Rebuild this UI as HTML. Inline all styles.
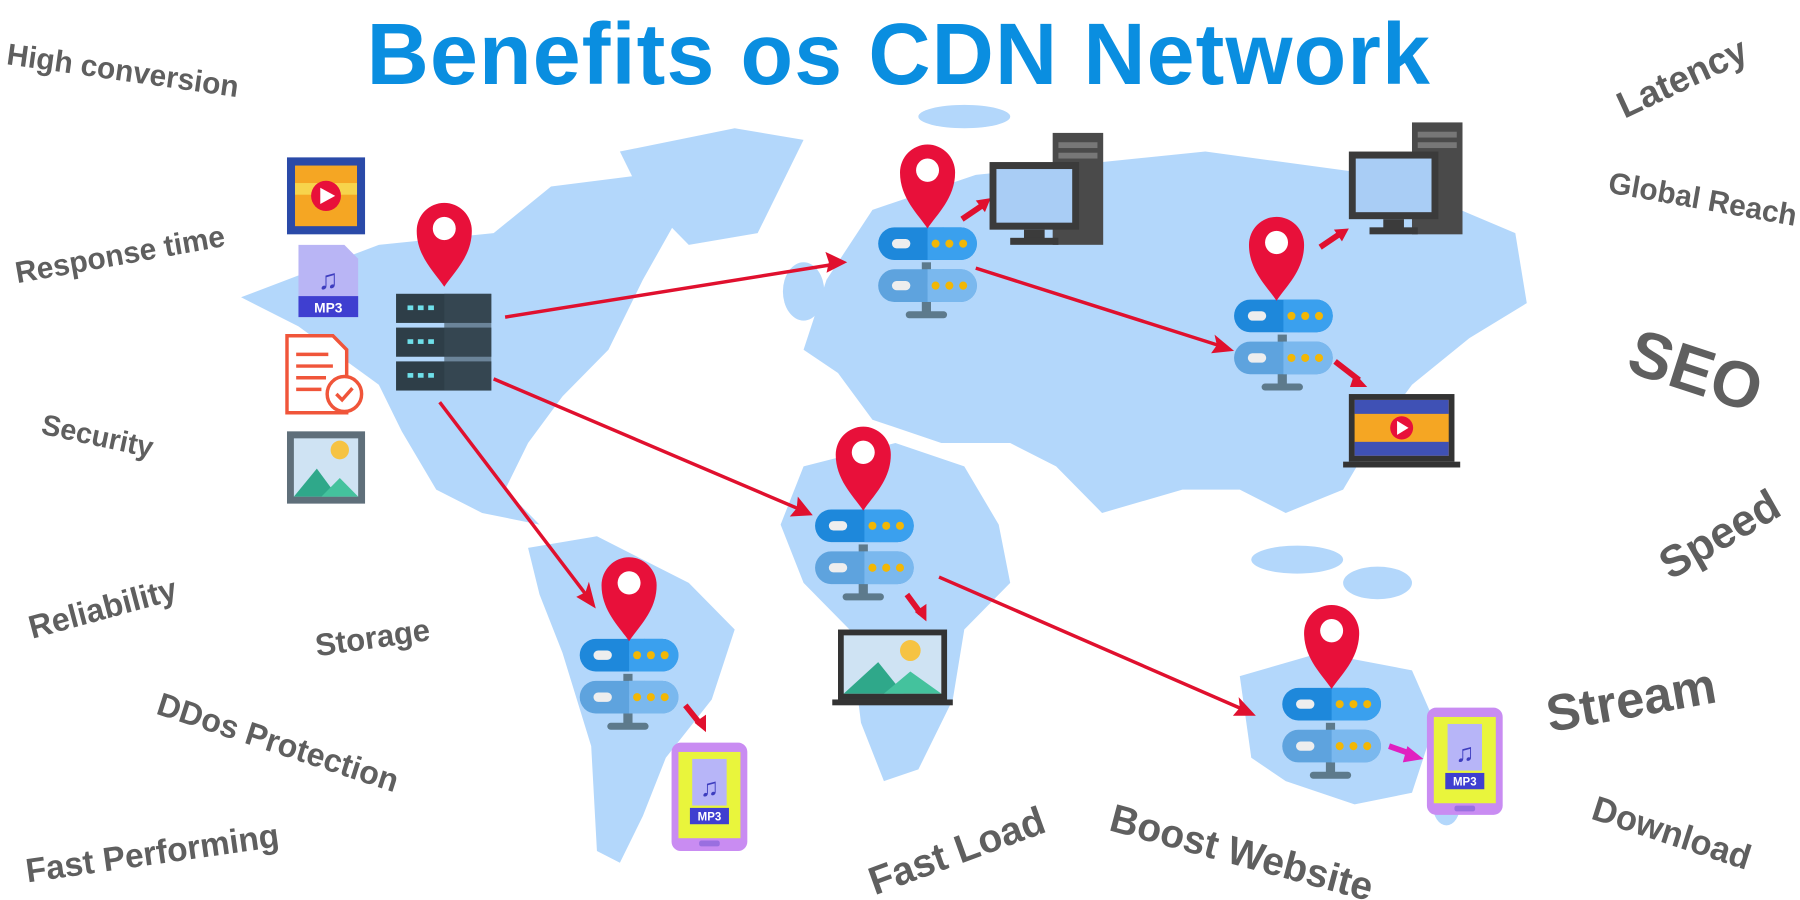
<!DOCTYPE html>
<html><head><meta charset="utf-8"><style>
html,body{margin:0;padding:0;background:#fff;width:1800px;height:900px;overflow:hidden}
svg{display:block}
.l{font-family:"Liberation Sans",Arial,sans-serif;font-weight:bold;fill:#5f5f5f}
</style></head><body>
<svg width="1800" height="900" viewBox="0 0 1568 772" preserveAspectRatio="none" xmlns="http://www.w3.org/2000/svg">
<defs>
<g id="pin"><path d="M0,48 C-8,36 -24,22 -24,0 A24,24 0 0 1 24,0 C24,22 8,36 0,48Z" fill="#e8103a"/><circle cx="0" cy="-2" r="10" fill="#fff"/></g>
<g id="srv">
<rect x="38" y="30" width="8" height="44" fill="#5d7a8c"/>
<rect x="24" y="72" width="36" height="6" rx="3" fill="#5d7a8c"/>
<rect x="0" y="0" width="86" height="28" rx="14" fill="#1e88db"/>
<rect x="43" y="0" width="43" height="28" rx="14" fill="#3aa0ee"/><rect x="43" y="0" width="14" height="28" fill="#3aa0ee"/>
<rect x="0" y="36" width="86" height="28" rx="14" fill="#5ea3de"/>
<rect x="43" y="36" width="43" height="28" rx="14" fill="#7ab8ee"/><rect x="43" y="36" width="14" height="28" fill="#7ab8ee"/>
<rect x="12" y="10" width="16" height="8" rx="4" fill="#eee"/><rect x="12" y="46" width="16" height="8" rx="4" fill="#eee"/>
<g fill="#f2b705"><circle cx="50" cy="14" r="3.5"/><circle cx="62" cy="14" r="3.5"/><circle cx="74" cy="14" r="3.5"/><circle cx="50" cy="50" r="3.5"/><circle cx="62" cy="50" r="3.5"/><circle cx="74" cy="50" r="3.5"/></g>
</g>
<g id="pc"><rect x="55" y="0" width="44" height="96" fill="#4a4a4a"/><rect x="60" y="8" width="34" height="5" fill="#777"/><rect x="60" y="17" width="34" height="5" fill="#777"/>
<rect x="0" y="25" width="78" height="58" fill="#3b3b3b"/><rect x="6" y="31" width="66" height="46" fill="#a9cdf5"/><rect x="30" y="83" width="18" height="8" fill="#3b3b3b"/><rect x="18" y="90" width="42" height="6" fill="#3b3b3b"/></g>
</defs>
<rect width="1568" height="772" fill="#fff"/>
<g fill="#b3d7fb">
<path d="M210,255 L330,210 L430,200 L480,160 L560,150 L600,170 L560,240 L530,300 L490,340 L460,380 L440,420 L470,450 L420,440 L380,420 L350,370 L330,330 L260,280 Z"/>
<path d="M540,130 L640,110 L700,120 L660,200 L600,210 L560,170 Z"/>
<path d="M460,470 L520,460 L600,500 L640,540 L620,600 L580,650 L560,700 L540,740 L520,730 L515,640 L490,560 L470,510 Z"/>
<path d="M720,240 L760,180 L850,150 L950,140 L1050,130 L1200,150 L1320,200 L1330,260 L1280,290 L1230,330 L1200,370 L1170,420 L1120,440 L1080,420 L1030,420 L960,440 L920,400 L880,380 L820,380 L760,360 L730,320 L700,300 Z"/>
<path d="M700,400 L780,380 L840,400 L870,450 L880,500 L840,540 L830,600 L800,660 L770,670 L750,620 L740,540 L700,500 L680,450 Z"/>
<path d="M1080,580 L1150,560 L1230,575 L1250,620 L1230,680 L1180,690 L1120,670 L1090,650 Z"/>
<ellipse cx="1130" cy="480" rx="40" ry="12"/><ellipse cx="1200" cy="500" rx="30" ry="14"/><ellipse cx="1260" cy="690" rx="12" ry="18"/>
<ellipse cx="700" cy="250" rx="18" ry="25"/><ellipse cx="840" cy="100" rx="40" ry="10"/>
</g>
<text x="783" y="72" text-anchor="middle" font-family="Liberation Sans,Arial,sans-serif" font-weight="bold" font-size="75" letter-spacing="1" fill="#0a8ee0">Benefits os CDN Network</text>
<text class="l" font-size="26" transform="translate(5,55) rotate(8)">High conversion</text>
<text class="l" font-size="26" transform="translate(15,243) rotate(-10)">Response time</text>
<text class="l" font-size="25" transform="translate(35,372) rotate(12)">Security</text>
<text class="l" font-size="28" transform="translate(28,548) rotate(-15)">Reliability</text>
<text class="l" font-size="27" transform="translate(276,563) rotate(-8)">Storage</text>
<text class="l" font-size="28" transform="translate(135,612) rotate(18)">DDos Protection</text>
<text class="l" font-size="29" transform="translate(24,757) rotate(-8)">Fast Performing</text>
<text class="l" font-size="34" transform="translate(762,768) rotate(-20)">Fast Load</text>
<text class="l" font-size="34" transform="translate(965,712) rotate(15)">Boost Website</text>
<text class="l" font-size="30" transform="translate(1385,702) rotate(18)">Download</text>
<text class="l" font-size="44" transform="translate(1350,628) rotate(-10)">Stream</text>
<text class="l" font-size="38" transform="translate(1455,498) rotate(-30)">Speed</text>
<text class="l" font-size="56" transform="translate(1415,318) rotate(18)">SEO</text>
<text class="l" font-size="26" transform="translate(1400,165) rotate(10)">Global Reach</text>
<text class="l" font-size="32" transform="translate(1415,102) rotate(-25)">Latency</text>
<g stroke="#e0102e" stroke-width="3" fill="none">
<line x1="440" y1="272" x2="725" y2="227"/><line x1="430" y1="325" x2="697" y2="437"/><line x1="383" y1="345" x2="512" y2="512"/>
<line x1="850" y1="230" x2="1064" y2="297"/><line x1="818" y1="495" x2="1084" y2="609"/>
<g stroke-width="5"><line x1="838" y1="188" x2="856" y2="176"/><line x1="1150" y1="212" x2="1168" y2="200"/><line x1="1163" y1="310" x2="1184" y2="326"/><line x1="790" y1="510" x2="802" y2="526"/><line x1="597" y1="605" x2="610" y2="621"/></g>
</g>
<line x1="1210" y1="640" x2="1230" y2="647" stroke="#e020c0" stroke-width="5"/>
<path d="M738,225 L720,234 L722,225 L719,216Z" fill="#e0102e"/>
<path d="M708,442 L688,443 L694,436 L695,426Z" fill="#e0102e"/>
<path d="M519,522 L502,512 L510,508 L513,499Z" fill="#e0102e"/>
<path d="M1075,301 L1055,303 L1060,296 L1058,287Z" fill="#e0102e"/>
<path d="M1094,614 L1074,614 L1080,607 L1079,598Z" fill="#e0102e"/>
<path d="M863,170 L850,172 L858,182Z" fill="#e0102e"/><path d="M1175,196 L1162,197 L1169,207Z" fill="#e0102e"/>
<path d="M1191,332 L1180,320 L1176,332Z" fill="#e0102e"/><path d="M807,533 L807,518 L797,525Z" fill="#e0102e"/><path d="M615,628 L615,613 L605,620Z" fill="#e0102e"/>
<path d="M1240,651 L1226,640 L1222,654Z" fill="#e020c0"/>
<g transform="translate(345,252)">
<rect width="83" height="25" fill="#2e3e48"/><rect y="29" width="83" height="25" fill="#2e3e48"/><rect y="58" width="83" height="25" fill="#2e3e48"/>
<rect x="42" width="41" height="83" fill="#3b4d58" opacity=".6"/>
<g fill="#6fe0ea"><rect x="10" y="10" width="5" height="4"/><rect x="19" y="10" width="5" height="4"/><rect x="28" y="10" width="5" height="4"/><rect x="10" y="39" width="5" height="4"/><rect x="19" y="39" width="5" height="4"/><rect x="28" y="39" width="5" height="4"/><rect x="10" y="68" width="5" height="4"/><rect x="19" y="68" width="5" height="4"/><rect x="28" y="68" width="5" height="4"/></g>
</g>
<use href="#pin" transform="translate(387,198)"/>
<use href="#srv" transform="translate(765,195)"/><use href="#pin" transform="translate(808,148)"/>
<use href="#srv" transform="translate(1075,257)"/><use href="#pin" transform="translate(1112,210)"/>
<use href="#srv" transform="translate(710,437)"/><use href="#pin" transform="translate(752,390)"/>
<use href="#srv" transform="translate(505,548)"/><use href="#pin" transform="translate(548,502)"/>
<use href="#srv" transform="translate(1117,590)"/><use href="#pin" transform="translate(1160,543)"/>
<use href="#pc" transform="translate(862,114)"/><use href="#pc" transform="translate(1175,105)"/>
<g transform="translate(1170,338)"><rect x="5" width="92" height="58" fill="#333"/><rect x="10" y="5" width="82" height="48" fill="#f5a623"/><rect x="10" y="5" width="82" height="12" fill="#3f51b5"/><rect x="10" y="41" width="82" height="12" fill="#3f51b5"/><circle cx="51" cy="29" r="10" fill="#e8103a"/><path d="M47,23 L57,29 L47,35Z" fill="#fff"/><rect x="0" y="58" width="102" height="5" fill="#333"/></g>
<g transform="translate(725,540)"><rect x="5" width="95" height="60" fill="#333"/><rect x="10" y="5" width="85" height="50" fill="#cfe3f3"/><circle cx="68" cy="18" r="9" fill="#f6c343"/><path d="M10,55 L40,28 L62,55Z" fill="#2fa88a"/><path d="M45,55 L68,36 L95,55Z" fill="#44c29d"/><rect x="0" y="60" width="105" height="5" fill="#333"/></g>
<g transform="translate(585,637)"><rect width="66" height="93" rx="8" fill="#c98cf2"/><rect x="6" y="8" width="54" height="74" fill="#e9f53c"/><rect x="18" y="14" width="30" height="40" fill="#b7b5f8"/><text x="33" y="46" font-size="22" text-anchor="middle" fill="#3d3dbf">♫</text><rect x="16" y="56" width="34" height="14" fill="#3f3fd0"/><text x="33" y="67" font-size="10" font-family="Liberation Sans" font-weight="bold" fill="#fff" text-anchor="middle">MP3</text><rect x="24" y="84" width="18" height="5" rx="2" fill="#9a6fe0"/></g>
<g transform="translate(1243,607)"><rect width="66" height="92" rx="8" fill="#c98cf2"/><rect x="6" y="8" width="54" height="74" fill="#e9f53c"/><rect x="18" y="14" width="30" height="40" fill="#b7b5f8"/><text x="33" y="46" font-size="22" text-anchor="middle" fill="#3d3dbf">♫</text><rect x="16" y="56" width="34" height="14" fill="#3f3fd0"/><text x="33" y="67" font-size="10" font-family="Liberation Sans" font-weight="bold" fill="#fff" text-anchor="middle">MP3</text><rect x="24" y="84" width="18" height="5" rx="2" fill="#9a6fe0"/></g>
<g transform="translate(250,135)"><rect width="68" height="66" fill="#2a4aa8"/><rect x="7" y="7" width="54" height="52" fill="#f5a623"/><rect x="7" y="22" width="54" height="10" fill="#f7d44c"/><circle cx="34" cy="33" r="13" fill="#e8103a"/><path d="M29,26 L42,33 L29,40Z" fill="#fff"/></g>
<g transform="translate(260,210)"><path d="M0,0 H40 L52,12 V62 H0Z" fill="#b9b5f5"/><rect x="0" y="44" width="52" height="18" fill="#3f3fd0"/><text x="26" y="58" font-size="12" font-family="Liberation Sans" font-weight="bold" fill="#fff" text-anchor="middle">MP3</text><text x="26" y="38" font-size="24" text-anchor="middle" fill="#3d3dbf">♫</text></g>
<g transform="translate(250,288)"><path d="M0,0 H40 L52,12 V66 H0Z" fill="#fff" stroke="#f0553a" stroke-width="3"/><g stroke="#f0553a" stroke-width="3"><line x1="8" y1="16" x2="36" y2="16"/><line x1="8" y1="26" x2="40" y2="26"/><line x1="8" y1="36" x2="34" y2="36"/><line x1="8" y1="46" x2="30" y2="46"/></g><circle cx="50" cy="50" r="15" fill="#fff" stroke="#f0553a" stroke-width="3"/><path d="M43,50 L48,55 L57,45" stroke="#f0553a" stroke-width="3" fill="none"/></g>
<g transform="translate(250,370)"><rect width="68" height="62" fill="#5f6f7a"/><rect x="6" y="6" width="56" height="50" fill="#cfe3f3"/><circle cx="46" cy="16" r="8" fill="#f6c343"/><path d="M6,56 L26,32 L44,56Z" fill="#2fa88a"/><path d="M30,56 L46,40 L62,56Z" fill="#44c29d"/></g>
</svg>
</body></html>
